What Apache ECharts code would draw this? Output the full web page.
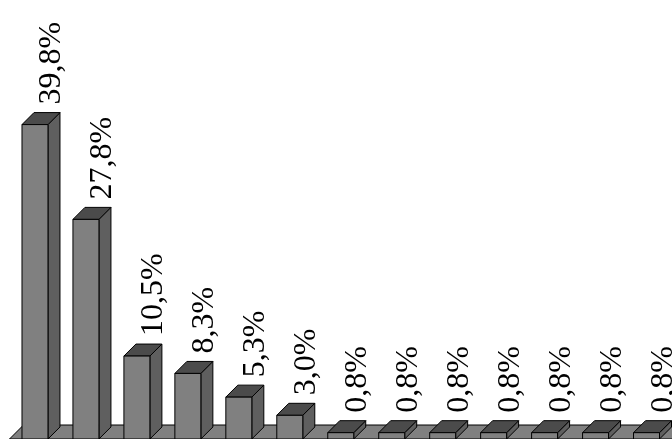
<!DOCTYPE html>
<html>
<head>
<meta charset="utf-8">
<script src="https://cdn.jsdelivr.net/npm/echarts@6/dist/echarts.min.js"></script>
<style>
  html, body { margin: 0; padding: 0; background: #fff; }
  #chart { width: 672px; height: 439px; }
</style>
</head>
<body>
<div id="chart"></div>
<script>
const categories = ['1', '2', '3', '4', '5', '6', '7', '8', '9', '10', '11', '12', '13'];
const shares = [39.8, 27.8, 10.5, 8.3, 5.3, 3.0, 0.8, 0.8, 0.8, 0.8, 0.8, 0.8, 0.8];

const DEPTH = 12;
const FRONT = '#808080';
const SIDE = '#5f5f5f';
const TOP = '#4b4b4b';

const chart = echarts.init(document.getElementById('chart'));

function fmt(v) {
  return v.toFixed(1).replace('.', ',') + '%';
}

const renderFloor = (params, api) => {
  const cs = params.coordSys;
  const y0 = api.coord([0, 0])[1];
  const d = 14;
  return {
    type: 'polygon',
    shape: {
      points: [
        [cs.x, y0], [cs.x + cs.width, y0],
        [cs.x + cs.width + d, y0 - d], [cs.x + d, y0 - d]
      ]
    },
    style: { fill: FRONT, stroke: '#000', lineWidth: 1 }
  };
};

const renderBar = (params, api) => {
  const idx = api.value(0);
  const val = api.value(1);
  const top = api.coord([idx, val]);
  const base = api.coord([idx, 0]);
  const w = api.size([1, 0])[0] * 0.51;
  const x1 = top[0] - w / 2;
  const x2 = top[0] + w / 2;
  const yt = top[1];
  const yb = base[1];
  const d = DEPTH;
  const line = { stroke: '#000', lineWidth: 1 };
  return {
    type: 'group',
    children: [
      {
        type: 'polygon',
        shape: { points: [[x2, yt], [x2 + d, yt - d], [x2 + d, yb - d], [x2, yb]] },
        style: Object.assign({ fill: SIDE }, line)
      },
      {
        type: 'polygon',
        shape: { points: [[x1, yt], [x1 + d, yt - d], [x2 + d, yt - d], [x2, yt]] },
        style: Object.assign({ fill: TOP }, line)
      },
      {
        type: 'rect',
        shape: { x: x1, y: yt, width: w, height: yb - yt },
        style: Object.assign({ fill: FRONT }, line)
      },
      {
        type: 'text',
        x: top[0] + 17,
        y: yt - 20,
        rotation: Math.PI / 2,
        style: {
          text: fmt(val),
          fill: '#000',
          fontFamily: 'Liberation Serif',
          fontSize: 32,
          align: 'left',
          verticalAlign: 'middle'
        }
      }
    ]
  };
};

const option = {
  animation: false,
  backgroundColor: '#fff',
  grid: { left: 9.5, top: 123, width: 663, height: 321 },
  xAxis: {
    type: 'category',
    data: categories,
    show: false
  },
  yAxis: {
    type: 'value',
    min: 0,
    max: 40,
    show: false
  },
  series: [
    {
      type: 'custom',
      renderItem: renderFloor,
      data: [[0, 0]],
      clip: false,
      silent: true
    },
    {
      type: 'custom',
      renderItem: renderBar,
      data: shares.map((v, i) => [i, v]),
      encode: { x: 0, y: 1 },
      clip: false
    }
  ]
};

chart.setOption(option);
</script>
</body>
</html>
